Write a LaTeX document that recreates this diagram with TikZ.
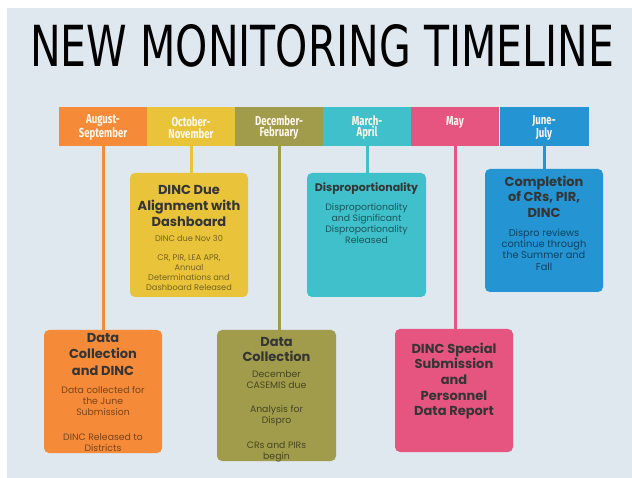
\documentclass[tikz,border=0pt]{standalone}
\usepackage{graphicx}
\usepackage{fontspec}
\setmainfont{Poppins}
\newfontfamily\labfont{Fira Sans}
\newfontfamily\titlefont{DejaVu Sans}
\definecolor{bgC}{HTML}{DFE7EF}
\definecolor{cOr}{HTML}{F58A38}
\definecolor{cYe}{HTML}{E9C43B}
\definecolor{cOl}{HTML}{A09C4C}
\definecolor{cCy}{HTML}{3FC0CB}
\definecolor{cPk}{HTML}{E6557F}
\definecolor{cBl}{HTML}{2494D3}
\definecolor{headC}{HTML}{353535}
\definecolor{labC}{HTML}{FFF7EA}
\colorlet{bOr}{cOr!50!black}
\colorlet{bYe}{cYe!50!black}
\colorlet{bOl}{cOl!45!black}
\colorlet{bCy}{cCy!45!black}
\colorlet{bBl}{cBl!45!black}
\newcommand\cond[1]{\scalebox{0.74}[1]{#1}}
\begin{document}
\begin{tikzpicture}[x=1pt,y=-1pt,
  seg/.style={rectangle, inner sep=0, minimum width=88pt, minimum height=39pt},
  lab/.style={inner sep=0, align=center, text=labC, font=\labfont\bfseries\fontsize{13}{11.5}\selectfont},
  card/.style={rectangle, rounded corners=5pt, inner sep=0},
  conn/.style={line width=3pt},
  head/.style={anchor=north, inner sep=0, align=center, text=headC, font=\bfseries\fontsize{13}{16}\selectfont},
  body/.style={anchor=north, inner sep=0, align=center, font=\fontsize{9.3}{11}\selectfont}]
\useasboundingbox (0,0) rectangle (632,478);
\fill[white] (0,0) rectangle (632,478);
\fill[bgC] (7,8) rectangle (632,478);
\node[anchor=south west, inner sep=0] (title) at (30,68) {\resizebox{584pt}{42pt}{\titlefont NEW MONITORING TIMELINE}};
% timeline segments
\node[seg, fill=cOr] (s1) at (103,126.5) {};
\node[seg, fill=cYe] (s2) at (191,126.5) {};
\node[seg, fill=cOl] (s3) at (279,126.5) {};
\node[seg, fill=cCy] (s4) at (367,126.5) {};
\node[seg, fill=cPk] (s5) at (455,126.5) {};
\node[seg, fill=cBl, minimum width=89pt] (s6) at (544,126.5) {};
\node[lab] (l1) at (103,127.5) {\cond{August-}\\\cond{September}};
\node[lab] (l2) at (191,127.5) {\cond{October-}\\\cond{November}};
\node[lab] (l3) at (279,127.5) {\cond{December-}\\\cond{February}};
\node[lab] (l4) at (367,127.5) {\cond{March-}\\\cond{April}};
\node[lab] (l5) at (455,122) {\cond{May}};
\node[lab] (l6) at (544,127.5) {\cond{June-}\\\cond{July}};
% boxes
\node[card, fill=cOr, minimum width=118pt, minimum height=123pt] (b1) at (103,391.5) {};
\node[card, fill=cYe, minimum width=118pt, minimum height=124pt] (b2) at (189,235) {};
\node[card, fill=cOl, minimum width=119pt, minimum height=131pt] (b3) at (276.5,395.5) {};
\node[card, fill=cCy, minimum width=119pt, minimum height=124pt] (b4) at (366.5,235) {};
\node[card, fill=cPk, minimum width=118pt, minimum height=123pt] (b5) at (454,390.5) {};
\node[card, fill=cBl, minimum width=118pt, minimum height=123pt] (b6) at (544,230.5) {};
% connectors
\draw[conn, cOr] (s1.south) -- (s1.south |- b1.north);
\draw[conn, cYe] (s2.south) -- (s2.south |- b2.north);
\draw[conn, cOl] (s3.south) -- (s3.south |- b3.north);
\draw[conn, cCy] (s4.south) -- (s4.south |- b4.north);
\draw[conn, cPk] (s5.south) -- (s5.south |- b5.north);
\draw[conn, cBl] (s6.south) -- (s6.south |- b6.north);
% texts
\node[head, font=\bfseries\fontsize{13}{16.5}\selectfont] (h1) at (103,333) {Data\\Collection\\and DINC};
\node[body, text=bOr] (t1) at (103,386.5) {Data collected for\\the June\\Submission\\[14pt]DINC Released to\\Districts};
\node[head] (h2) at (189,185.5) {DINC Due\\Alignment with\\Dashboard};
\node[body, text=bYe, font=\fontsize{8.2}{9.7}\selectfont] (t2) at (189,235) {DINC due Nov 30\\[10pt]CR, PIR, LEA APR,\\Annual\\Determinations and\\Dashboard Released};
\node[head, font=\bfseries\fontsize{13}{15}\selectfont] (h3) at (276.5,337.5) {Data\\Collection};
\node[body, text=bOl] (t3) at (276.5,370.5) {December\\CASEMIS due\\[13pt]Analysis for\\Dispro\\[14pt]CRs and PIRs\\begin};
\node[head, font=\bfseries\fontsize{11}{12}\selectfont] (h4) at (366.5,182) {Disproportionality};
\node[body, text=bCy] (t4) at (366.5,203.5) {Disproportionality\\and Significant\\Disproportionality\\Released};
\node[head, font=\bfseries\fontsize{13}{15.7}\selectfont] (h5) at (454,342.5) {DINC Special\\Submission\\and\\Personnel\\Data Report};
\node[head, font=\bfseries\fontsize{13}{15.5}\selectfont] (h6) at (544,175.5) {Completion\\of CRs, PIR,\\DINC};
\node[body, text=bBl, font=\fontsize{9.8}{11.3}\selectfont] (t6) at (544,228.5) {Dispro reviews\\continue through\\the Summer and\\Fall};
\end{tikzpicture}
\end{document}
